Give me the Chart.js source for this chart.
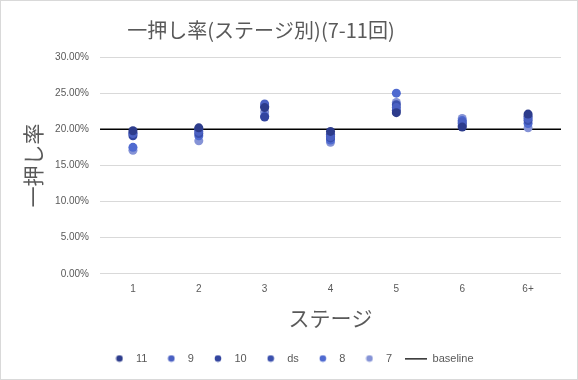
<!DOCTYPE html>
<html>
<head>
<meta charset="utf-8">
<script src="https://cdn.jsdelivr.net/npm/chart.js@4/dist/chart.umd.min.js"></script>
<style>
html,body{margin:0;padding:0;background:#fff;}
#wrap{width:578px;height:380px;box-sizing:border-box;border:1px solid #d9d9d9;background:#fff;}
canvas{display:block;}
</style>
</head>
<body>
<div id="wrap"><canvas id="c" width="576" height="378"></canvas></div>
<script>
// categories (stages)
const stages = ['1','2','3','4','5','6','6+'];
// series values (percent)
const s11 = [19.8, 20.2, 23.0, 19.7, 22.3, 20.3, 22.1];
const s9  = [19.4, 19.7, 23.5, 19.0, 23.0, 21.0, 21.5];
const s10 = [19.1, 20.0, 21.7, 19.3, 22.6, 20.5, 21.8];
const sds = [19.5, 19.4, 23.2, 18.8, 23.4, 20.8, 21.2];
const s8  = [17.5, 19.1, 21.8, 18.5, 25.0, 21.2, 20.8];
const s7  = [17.1, 18.4, 22.4, 18.2, 23.7, 21.5, 20.2];
const baselineValue = 20;
const seriesNames = ['11','9','10','ds','8','7'];
const seriesData = [s11, s9, s10, sds, s8, s7];
const seriesColors = ['#2d3c8c','#4a60c2','#33459f','#3b50ad','#4f6ad0','#8593d6'];
const yTicks = [0,5,10,15,20,25,30];

const toPoints = arr => arr.map((v,i)=>({x:i+1, y:v}));

function circleImg(color){
  const c=document.createElement('canvas'); c.width=8; c.height=8;
  const g=c.getContext('2d'); g.fillStyle=color; g.beginPath(); g.arc(4,4,3.3,0,Math.PI*2); g.fill();
  return c;
}
function lineImg(){
  const c=document.createElement('canvas'); c.width=22; c.height=2;
  const g=c.getContext('2d'); g.fillStyle='#000'; g.fillRect(0,0,22,1.5);
  return c;
}

const datasets = seriesNames.map((n,k)=>({
  label:n, type:'scatter', data:toPoints(seriesData[k]),
  backgroundColor:seriesColors[k], borderColor:seriesColors[k], borderWidth:0,
  pointRadius:4.5, pointHoverRadius:4.5
}));
datasets.push({
  label:'baseline', type:'line',
  data:[{x:0.5,y:baselineValue},{x:stages.length+0.5,y:baselineValue}],
  borderColor:'#000', backgroundColor:'#000', borderWidth:1.5, pointRadius:0, fill:false
});

const JP = '"Noto Sans CJK JP", "Noto Sans", sans-serif';
const TK = '"Liberation Sans", Arial, sans-serif';

new Chart(document.getElementById('c'), {
  type:'scatter',
  data:{datasets},
  options:{
    responsive:false, animation:false,
    layout:{padding:{left:20,right:16,top:0,bottom:5}},
    plugins:{
      tooltip:{enabled:false},
      title:{display:true, text:'一押し率(ステージ別)(7-11回)\u3000\u3000\u2002\u2002', color:'#595959',
        font:{family:JP, size:20, weight:'normal'}, padding:{top:17,bottom:15}},
      legend:{display:true, position:'bottom',
        labels:{usePointStyle:true, pointStyleWidth:22, boxHeight:10, padding:13,
          color:'#595959', font:{family:TK, size:11},
          generateLabels(chart){
            const items = Chart.defaults.plugins.legend.labels.generateLabels(chart);
            items.forEach((it,i)=>{
              it.pointStyle = i < seriesColors.length ? circleImg(seriesColors[i]) : lineImg();
            });
            return items;
          }}}
    },
    scales:{
      x:{type:'linear', min:0.5, max:stages.length+0.5,
        afterBuildTicks(axis){ axis.ticks = stages.map((s,i)=>({value:i+1})); },
        grid:{display:false}, border:{display:false},
        ticks:{padding:1, color:'#595959', font:{family:TK,size:10},
          callback:(v)=>stages[Math.round(v)-1] ?? ''},
        title:{display:true, text:'ステージ', color:'#595959', font:{family:JP,size:21}, padding:{top:10,bottom:9}}
      },
      y:{min:0, max:30,
        afterBuildTicks(axis){ axis.ticks = yTicks.map(v=>({value:v})); },
        grid:{color:'#d9d9d9', drawTicks:false, lineWidth:1}, border:{display:false},
        ticks:{padding:11, color:'#595959', font:{family:TK,size:10},
          callback:(v)=>v.toFixed(2)+'%'},
        title:{display:true, text:'一押し率', color:'#595959', font:{family:JP,size:21,lineHeight:1.1}, padding:{top:0,bottom:0}}
      }
    }
  }
});
</script>
</body>
</html>
